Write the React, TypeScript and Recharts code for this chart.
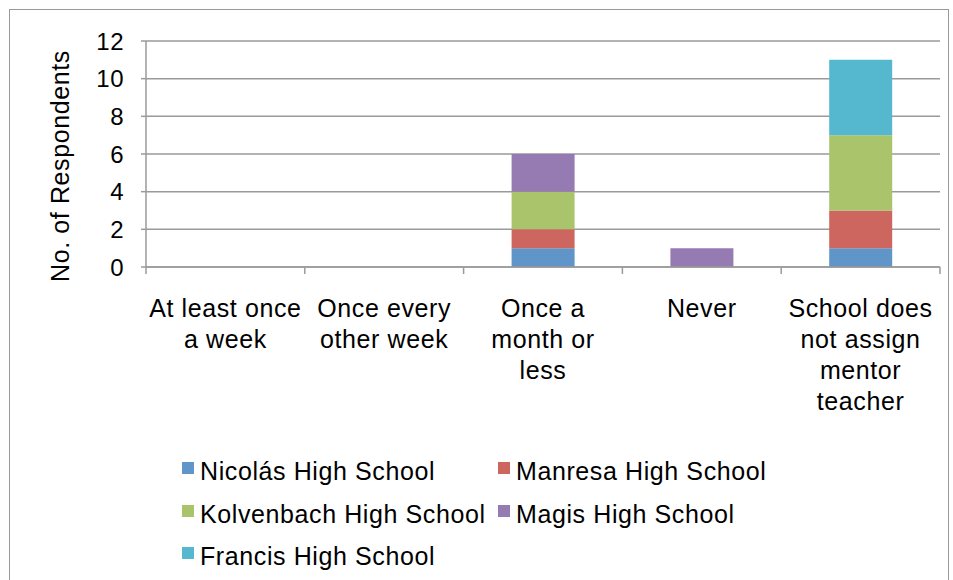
import React from "react";
import { BarChart, Bar, XAxis, YAxis, CartesianGrid } from "recharts";

// categories and their wrapped tick lines
const categories = [
  "At least once a week",
  "Once every other week",
  "Once a month or less",
  "Never",
  "School does not assign mentor teacher",
];
const categoryLines = [
  ["At least once", "a week"],
  ["Once every", "other week"],
  ["Once a", "month or", "less"],
  ["Never"],
  ["School does", "not assign", "mentor", "teacher"],
];

// respondents per school, one value per category
const nicolas = [0, 0, 1, 0, 1];
const manresa = [0, 0, 1, 0, 2];
const kolvenbach = [0, 0, 2, 0, 4];
const magis = [0, 0, 2, 1, 0];
const francis = [0, 0, 0, 0, 4];

const yTicks = [0, 2, 4, 6, 8, 10, 12];

const schools = [
  { key: "nicolas", name: "Nicolás High School", color: "#5F95C9", values: nicolas },
  { key: "manresa", name: "Manresa High School", color: "#CD665E", values: manresa },
  { key: "kolvenbach", name: "Kolvenbach High School", color: "#AAC46C", values: kolvenbach },
  { key: "magis", name: "Magis High School", color: "#957BB1", values: magis },
  { key: "francis", name: "Francis High School", color: "#56B8CF", values: francis },
];

const data = categories.map((c, i) => {
  const row: Record<string, string | number> = { category: c };
  schools.forEach((s) => (row[s.key] = s.values[i]));
  return row;
});

const FONT = '"Liberation Sans", Arial, Helvetica, sans-serif';
const W = 953;
const H = 580;
const PLOT_LEFT = 146;
const PLOT_RIGHT = 940;
const PLOT_TOP = 41;
const PLOT_BOTTOM = 267;
const AXIS_GRAY = "#9a9a9a";
const STEP = (PLOT_RIGHT - PLOT_LEFT) / categories.length;

const CategoryTick = (props: any) => {
  const { x, y, index } = props;
  const lines = categoryLines[index] || [];
  const left = x - STEP / 2;
  return (
    <g>
      <line x1={left} y1={y} x2={left} y2={y + 7} stroke={AXIS_GRAY} strokeWidth={1.5} />
      {index === categories.length - 1 && (
        <line x1={x + STEP / 2} y1={y} x2={x + STEP / 2} y2={y + 7} stroke={AXIS_GRAY} strokeWidth={1.5} />
      )}
      <text
        x={x}
        y={y + 50}
        textAnchor="middle"
        fontFamily={FONT}
        fontSize={25}
        letterSpacing={0.6}
        fill="#000"
      >
        {lines.map((l, i) => (
          <tspan key={i} x={x} dy={i === 0 ? 0 : 31}>
            {l}
          </tspan>
        ))}
      </text>
    </g>
  );
};

const YLabel = (props: any) => {
  const { viewBox } = props;
  const cx = viewBox.x + 60;
  const cy = viewBox.y + viewBox.height / 2 + 12;
  return (
    <text
      x={cx}
      y={cy}
      transform={`rotate(-90, ${cx}, ${cy})`}
      textAnchor="middle"
      dominantBaseline="central"
      fontFamily={FONT}
      fontSize={25}
      letterSpacing={0.6}
      fill="#000"
    >
      No. of Respondents
    </text>
  );
};

export default function App() {
  return (
    <div
      style={{
        position: "absolute",
        left: 0,
        top: 0,
        width: W,
        height: H,
        overflow: "hidden",
        background: "#fff",
        fontFamily: FONT,
      }}
    >
      <div
        style={{
          position: "absolute",
          left: 9,
          top: 9,
          width: 938,
          height: 620,
          border: "1.5px solid #9a9a9a",
        }}
      />
      <div style={{ position: "absolute", left: 0, top: 0 }}>
        <BarChart
          width={W}
          height={H}
          data={data}
          margin={{ top: PLOT_TOP, right: W - PLOT_RIGHT, left: 0, bottom: 0 }}
        >
          <CartesianGrid vertical={false} stroke={AXIS_GRAY} strokeWidth={1.5} />
          <XAxis
            dataKey="category"
            height={H - PLOT_BOTTOM}
            axisLine={{ stroke: AXIS_GRAY, strokeWidth: 1.5 }}
            tickLine={false}
            tickSize={0}
            tickMargin={0}
            interval={0}
            tick={<CategoryTick />}
          />
          <YAxis
            width={PLOT_LEFT}
            domain={[0, 12]}
            ticks={yTicks}
            interval={0}
            axisLine={{ stroke: AXIS_GRAY, strokeWidth: 1.5 }}
            tickLine={{ stroke: AXIS_GRAY, strokeWidth: 1.5 }}
            tickSize={5}
            tickMargin={17}
            tick={{ fontFamily: FONT, fontSize: 24, fill: "#000", letterSpacing: 0.5 }}
            label={<YLabel />}
          />
          {schools.map((s) => (
            <Bar
              key={s.key}
              dataKey={s.key}
              name={s.name}
              stackId="a"
              fill={s.color}
              barSize={63}
              isAnimationActive={false}
            />
          ))}
        </BarChart>
      </div>
      {/* legend: two columns, filled squares with names */}
      {schools.map((s, i) => {
        const col = i % 2;
        const row = Math.floor(i / 2);
        return (
          <div
            key={s.key}
            style={{
              position: "absolute",
              left: col === 0 ? 182 : 498,
              top: 456 + row * 42.5,
              display: "flex",
              alignItems: "flex-start",
              whiteSpace: "nowrap",
            }}
          >
            <div
              style={{
                width: 12,
                height: 12,
                background: s.color,
                marginTop: 6,
                marginRight: 6,
              }}
            />
            <span
              style={{
                fontSize: 25,
                letterSpacing: 0.6,
                lineHeight: "30px",
                color: "#000",
              }}
            >
              {s.name}
            </span>
          </div>
        );
      })}
    </div>
  );
}
